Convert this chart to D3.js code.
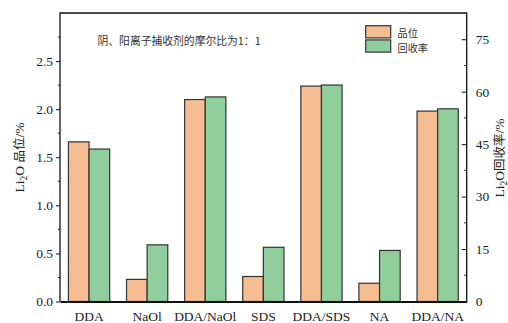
<!DOCTYPE html>
<html><head><meta charset="utf-8">
<script src="https://cdn.jsdelivr.net/npm/d3@7"></script>
<style>
html,body{margin:0;padding:0;background:#fff;}
svg{display:block;}
</style></head>
<body>
<svg id="chart" width="508" height="323"></svg>
<script>
// Collector systems
const categories = ["DDA", "NaOl", "DDA/NaOl", "SDS", "DDA/SDS", "NA", "DDA/NA"];
// Li2O grade, %
const grade = [1.66, 0.23, 2.10, 0.26, 2.24, 0.19, 1.98];
// Li2O recovery, %
const recovery = [43.6, 16.2, 58.5, 15.5, 61.9, 14.6, 55.1];
const leftTicks = [0.0, 0.5, 1.0, 1.5, 2.0, 2.5];
const rightTicks = [0, 15, 30, 45, 60, 75];
const seriesNames = ["品位", "回收率"];
const note = "阴、阳离子捕收剂的摩尔比为1：1";

const colors = ["#F6BD93", "#90CF9D"];
const stroke = "#333";
const serif = "'Liberation Serif','Times New Roman',serif";
const cjk = "'Noto Sans CJK SC',sans-serif";

const svg = d3.select("#chart");
const m = {left: 60, right: 466.7, top: 13, bottom: 301.5};

const x = d3.scaleBand().domain(categories).range([m.left, m.right]).padding(0);
const yL = d3.scaleLinear().domain([0, 3.0]).range([m.bottom, m.top]);
const yR = d3.scaleLinear().domain([0, 82.5]).range([m.bottom, m.top]);

const bw = x.bandwidth() * 0.355;

// bars
const g = svg.append("g");
categories.forEach((c, i) => {
  const cx = x(c) + x.bandwidth() / 2;
  g.append("rect")
    .attr("x", cx - bw).attr("width", bw)
    .attr("y", yL(grade[i])).attr("height", yL(0) - yL(grade[i]))
    .attr("fill", colors[0]).attr("stroke", stroke).attr("stroke-width", 1.2);
  g.append("rect")
    .attr("x", cx).attr("width", bw)
    .attr("y", yR(recovery[i])).attr("height", yR(0) - yR(recovery[i]))
    .attr("fill", colors[1]).attr("stroke", stroke).attr("stroke-width", 1.2);
});

// left axis
const leftAxis = d3.axisLeft(yL).tickValues(leftTicks).tickFormat(d3.format(".1f")).tickSize(4).tickPadding(3);
const gl = svg.append("g").attr("transform", `translate(${m.left},0)`).call(leftAxis);
gl.select(".domain").remove();
gl.selectAll("line").attr("stroke", "#111").attr("stroke-width", 1);
gl.selectAll("text").attr("font-family", serif).attr("font-size", 13.5).attr("fill", "#222");
// left minor ticks
svg.append("g").selectAll("line")
  .data(d3.range(0.25, 3.0, 0.5))
  .join("line")
  .attr("x1", m.left - 2).attr("x2", m.left)
  .attr("y1", d => yL(d)).attr("y2", d => yL(d))
  .attr("stroke", "#111").attr("stroke-width", 1);

// right axis, ticks drawn inward
const rightAxis = d3.axisRight(yR).tickValues(rightTicks).tickSize(-5).tickPadding(9);
const gr = svg.append("g").attr("transform", `translate(${m.right},0)`).call(rightAxis);
gr.select(".domain").remove();
gr.selectAll("line").attr("stroke", "#111").attr("stroke-width", 1);
gr.selectAll("text").attr("font-family", serif).attr("font-size", 13.5).attr("fill", "#222");
svg.append("g").selectAll("line")
  .data(d3.range(7.5, 82.5, 15))
  .join("line")
  .attr("x1", m.right - 2.5).attr("x2", m.right)
  .attr("y1", d => yR(d)).attr("y2", d => yR(d))
  .attr("stroke", "#111").attr("stroke-width", 1);

// frame
svg.append("path")
  .attr("d", `M${m.left},${m.bottom}V${m.top}H${m.right}V${m.bottom}`)
  .attr("fill", "none").attr("stroke", "#111").attr("stroke-width", 1.3);
// bottom axis
const bottomAxis = d3.axisBottom(x).tickSize(0).tickPadding(10);
const gb = svg.append("g").attr("transform", `translate(0,${m.bottom})`).call(bottomAxis);
gb.select(".domain").attr("stroke", "#111").attr("stroke-width", 2.2);
gb.selectAll("text").attr("font-family", serif).attr("font-size", 13.5).attr("fill", "#222");

// axis titles
const lt = svg.append("text")
  .attr("transform", `translate(24,157.5) rotate(-90)`)
  .attr("text-anchor", "middle").attr("font-size", 13.5).attr("fill", "#222");
lt.append("tspan").attr("font-family", serif).text("Li");
lt.append("tspan").attr("font-family", serif).attr("font-size", 9.5).attr("dy", 3).text("2");
lt.append("tspan").attr("font-family", serif).attr("dy", -3).text("O ");
lt.append("tspan").attr("font-family", cjk).attr("font-size", 12.5).text("品位");
lt.append("tspan").attr("font-family", serif).text("/%");

const rt = svg.append("text")
  .attr("transform", `translate(504,158) rotate(-90)`)
  .attr("text-anchor", "middle").attr("font-size", 13.5).attr("fill", "#222");
rt.append("tspan").attr("font-family", serif).text("Li");
rt.append("tspan").attr("font-family", serif).attr("font-size", 9.5).attr("dy", 3).text("2");
rt.append("tspan").attr("font-family", serif).attr("dy", -3).text("O");
rt.append("tspan").attr("font-family", cjk).attr("font-size", 12.5).text("回收率");
rt.append("tspan").attr("font-family", serif).text("/%");

// annotation
svg.append("text")
  .attr("x", 97.5).attr("y", 44.5)
  .attr("font-family", cjk).attr("font-size", 10.8).attr("fill", "#333")
  .text(note);

// legend
const lg = svg.append("g");
const rowH = 14.2;
seriesNames.forEach((n, i) => {
  lg.append("rect")
    .attr("x", 365.7).attr("y", 25.7 + i * rowH)
    .attr("width", 25).attr("height", 12.2)
    .attr("fill", colors[i]).attr("stroke", stroke).attr("stroke-width", 1.2);
  lg.append("text")
    .attr("x", 397.5).attr("y", 37 + i * 14.8)
    .attr("font-family", cjk).attr("font-size", 10.2).attr("fill", "#333")
    .text(n);
});
</script>
</body></html>
